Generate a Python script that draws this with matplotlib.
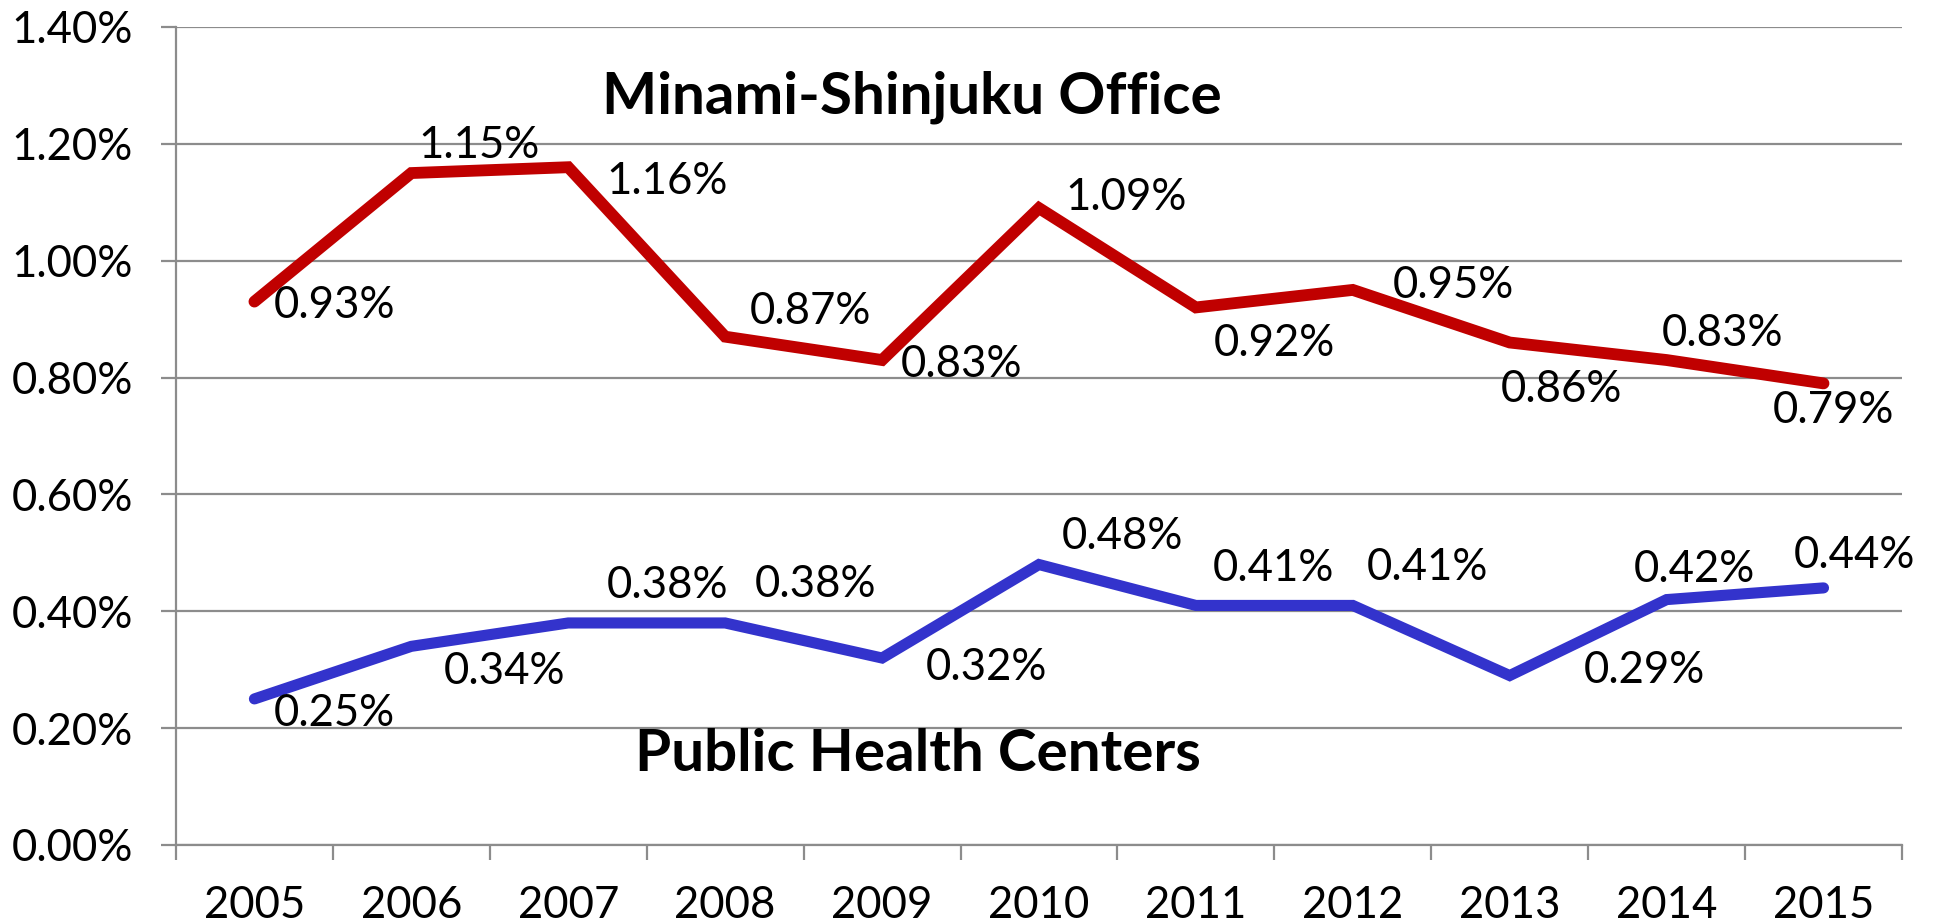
import matplotlib.pyplot as plt
from matplotlib.ticker import FixedLocator, PercentFormatter

plt.rcParams['font.family'] = ['Lato', 'DejaVu Sans']

years = ["2005", "2006", "2007", "2008", "2009", "2010", "2011", "2012", "2013", "2014", "2015"]
office = [0.93, 1.15, 1.16, 0.87, 0.83, 1.09, 0.92, 0.95, 0.86, 0.83, 0.79]
centers = [0.25, 0.34, 0.38, 0.38, 0.32, 0.48, 0.41, 0.41, 0.29, 0.42, 0.44]

# label offsets in pixels (dx right, dy down)
office_off = [(80, 4), (68, -28), (99, 14), (85, -25), (79, 4), (87, -11),
              (78, 36), (101, -4), (52, 47), (56, -27), (10, 27)]
centers_off = [(80, 15), (93, 25), (99, -37), (90, -38), (104, 9), (83, -28),
               (78, -37), (75, -38), (135, -5), (28, -30), (31, -32)]

fig = plt.figure(figsize=(19.4, 9.24), dpi=100)
ax = fig.add_axes([0.0907, 0.0855, 0.8897, 0.8853])

x = list(range(len(years)))
ax.plot(x, office, color="#C00000", lw=8.5, solid_capstyle="round", solid_joinstyle="miter", zorder=3)
ax.plot(x, centers, color="#3333CC", lw=8, solid_capstyle="round", solid_joinstyle="miter", zorder=3)

for xi, v, (dx, dy) in zip(x, office, office_off):
    ax.annotate(f"{v:.2f}%", (xi, v), xytext=(dx, -dy), textcoords="offset pixels",
                ha="center", va="center", fontsize=31.5, zorder=4)
for xi, v, (dx, dy) in zip(x, centers, centers_off):
    ax.annotate(f"{v:.2f}%", (xi, v), xytext=(dx, -dy), textcoords="offset pixels",
                ha="center", va="center", fontsize=31.5, zorder=4)

ax.text(4.19, 1.28, "Minami-Shinjuku Office", fontsize=42, fontweight="bold",
        ha="center", va="center")
ax.text(4.23, 0.155, "Public Health Centers", fontsize=42, fontweight="bold",
        ha="center", va="center")

ax.set_xlim(-0.5, 10.5)
ax.set_ylim(0, 1.4)
ax.set_yticks([i * 0.2 for i in range(8)])
ax.yaxis.set_major_formatter(PercentFormatter(decimals=2))
ax.xaxis.set_major_locator(FixedLocator([i - 0.5 for i in range(12)]))
ax.xaxis.set_minor_locator(FixedLocator(x))
ax.set_xticklabels([])
ax.set_xticklabels(years, minor=True)

ax.grid(axis="y", color="#8C8C8C", lw=1.6, zorder=0)
ax.tick_params(axis="y", length=11, width=1.6, color="#8C8C8C", labelsize=31.5, pad=20)
ax.tick_params(axis="x", which="major", length=11, width=1.6, color="#8C8C8C")
ax.tick_params(axis="x", which="minor", length=0, labelsize=31.5, pad=29)

for s in ["top", "right"]:
    ax.spines[s].set_visible(False)
for s in ["left", "bottom"]:
    ax.spines[s].set_color("#8C8C8C")
    ax.spines[s].set_linewidth(1.6)

fig.savefig("out.png", dpi=100)
